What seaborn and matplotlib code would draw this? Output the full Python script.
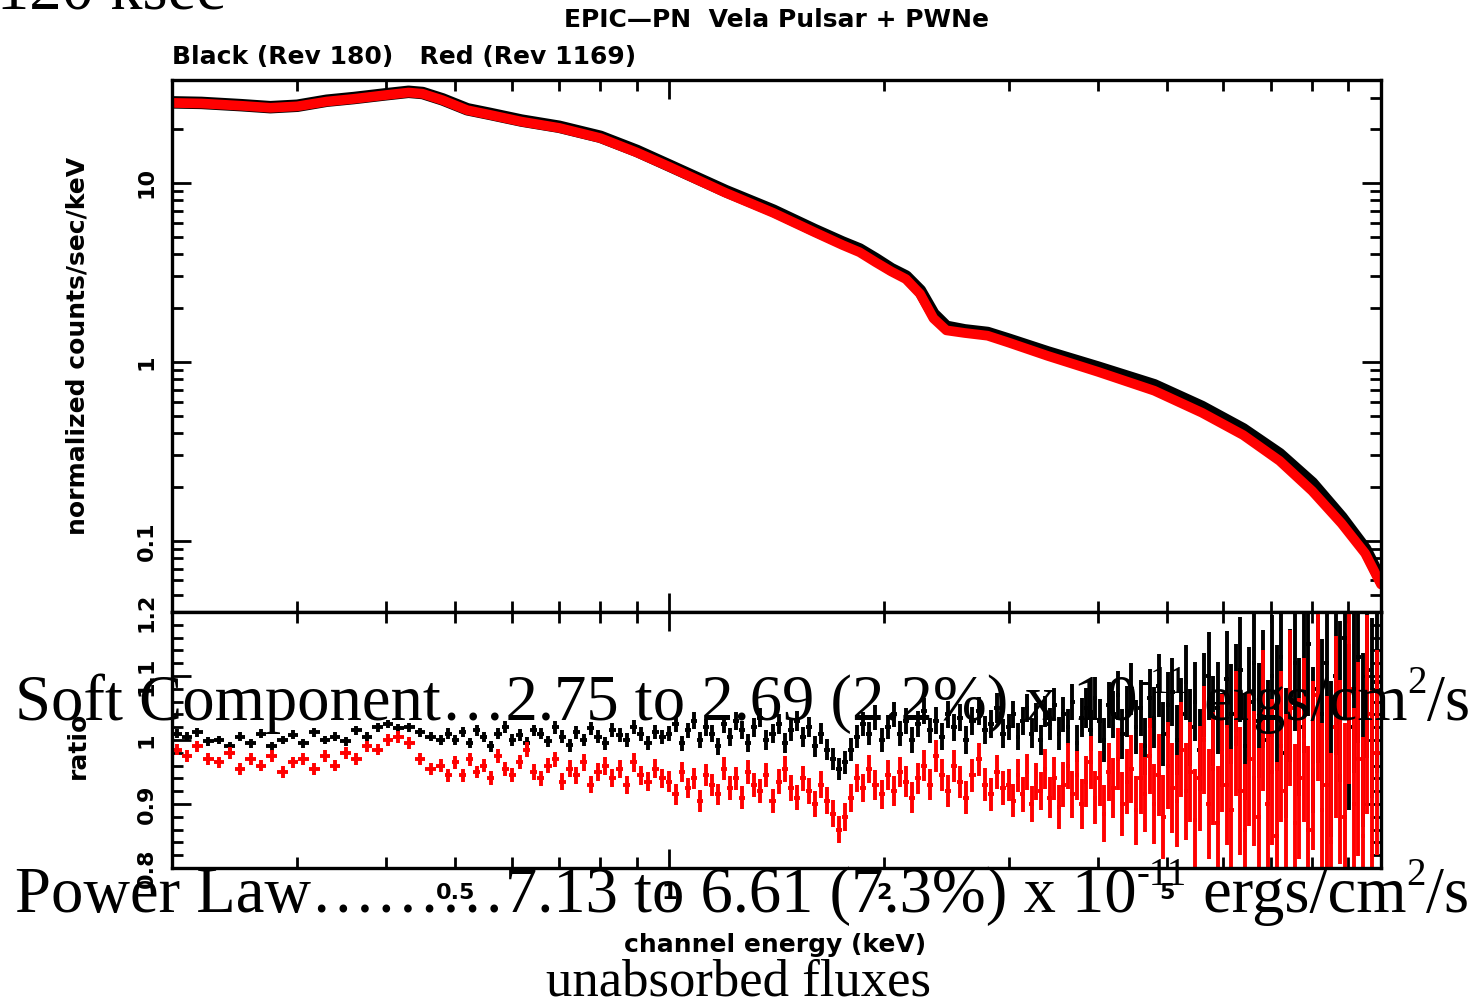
import numpy as np
import pandas as pd
import matplotlib
matplotlib.use("Agg")
from matplotlib import pyplot as plt
from matplotlib.ticker import FixedLocator, FixedFormatter
import seaborn as sns

# --- top panel: spectrum (keV, normalized counts/sec/keV) ---
spec_energy = [0.2, 0.22, 0.25, 0.275, 0.3, 0.33, 0.36, 0.4, 0.43, 0.45,
               0.48, 0.52, 0.56, 0.62, 0.7, 0.8, 0.9, 1.0, 1.2, 1.4,
               1.6, 1.75, 1.85, 1.95, 2.05, 2.15, 2.25, 2.35, 2.45, 2.6,
               2.8, 3.0, 3.4, 4.0, 4.8, 5.6, 6.4, 7.2, 8.0, 8.8,
               9.5, 10.0]
counts_black = [28.2, 28, 27.2, 26.5, 27, 28.8, 29.8, 31.3, 32.3, 31.8,
                29.3, 25.8, 24.3, 22.3, 20.6, 18.1, 15.1, 12.5, 9.0, 7.0,
                5.45, 4.65, 4.25, 3.75, 3.3, 3.0, 2.5, 1.85, 1.57, 1.5,
                1.45, 1.33, 1.13, 0.93, 0.74, 0.56, 0.42, 0.305, 0.21, 0.135,
                0.09, 0.06]
counts_red = [28, 27.8, 27, 26.3, 26.8, 28.5, 29.5, 31, 32, 31.5,
              29, 25.5, 24, 22, 20.3, 17.8, 14.8, 12.3, 8.8, 6.8,
              5.3, 4.5, 4.1, 3.6, 3.2, 2.9, 2.4, 1.75, 1.5, 1.45,
              1.4, 1.28, 1.08, 0.88, 0.69, 0.52, 0.39, 0.28, 0.19, 0.125,
              0.085, 0.057]

# --- bottom panel: data/model ratio, channel centres in keV ---
ratio_energy = [
    0.203, 0.210, 0.217, 0.225, 0.233, 0.241, 0.249, 0.258, 0.267, 0.276,
    0.286, 0.296, 0.306, 0.317, 0.328, 0.339, 0.351, 0.363, 0.376, 0.389,
    0.402, 0.416, 0.431, 0.446, 0.462, 0.478, 0.489,
    0.500, 0.512, 0.524, 0.536, 0.548, 0.561, 0.574, 0.588, 0.601, 0.616,
    0.630, 0.645, 0.660, 0.675, 0.691, 0.707, 0.724, 0.740, 0.758, 0.775,
    0.794, 0.812, 0.831, 0.851, 0.871, 0.891, 0.912, 0.933, 0.955, 0.977,
    1.000, 1.020, 1.040, 1.061, 1.082, 1.103, 1.125, 1.147, 1.170, 1.193,
    1.217, 1.241, 1.266, 1.291, 1.316, 1.342, 1.369, 1.396, 1.424, 1.452,
    1.481, 1.510, 1.540, 1.570, 1.601, 1.633, 1.665, 1.698, 1.732, 1.766,
    1.801, 1.837, 1.873, 1.910, 1.948, 1.987, 2.026, 2.066, 2.107, 2.149,
    2.191, 2.235, 2.279, 2.324, 2.370, 2.417, 2.465, 2.514, 2.564, 2.614,
    2.666, 2.719, 2.773, 2.828, 2.884, 2.941,
    3.000, 3.044, 3.089, 3.135, 3.181, 3.228, 3.276, 3.324, 3.373, 3.423,
    3.474, 3.525, 3.577, 3.630, 3.684, 3.738, 3.794, 3.850, 3.907, 3.965,
    4.024, 4.083, 4.144, 4.205, 4.267, 4.330, 4.395, 4.460, 4.526, 4.593,
    4.661, 4.729, 4.799, 4.870, 4.942, 5.016, 5.090, 5.165, 5.241, 5.319,
    5.397, 5.478, 5.559, 5.641, 5.724, 5.809, 5.895, 5.982, 6.070, 6.160,
    6.251, 6.344, 6.438, 6.533, 6.629, 6.727, 6.827, 6.928, 7.030, 7.134,
    7.240, 7.347, 7.455, 7.566, 7.678, 7.791, 7.906, 8.023, 8.142, 8.262,
    8.385, 8.509, 8.634, 8.762, 8.892, 9.023, 9.157, 9.292, 9.430, 9.569,
    9.711, 9.855]
ratio_black = [
    1.01, 1.005, 1.012, 0.998, 1.0, 0.99, 1.005, 0.995, 1.01, 0.99,
    1.0, 1.008, 0.995, 1.012, 1.0, 1.005, 0.998, 1.015, 1.005, 1.02,
    1.025, 1.018, 1.02, 1.012, 1.005, 1.0, 1.01,
    1.0, 1.012, 0.995, 1.015, 1.005, 0.99, 1.01, 1.02, 1.0, 1.008,
    0.995, 1.015, 1.01, 0.998, 1.02, 1.005, 0.992, 1.012, 1.0, 1.018,
    1.005, 0.995, 1.015, 1.008, 1.0, 1.02, 1.01, 0.995, 1.012, 1.005,
    1.01, 1.025, 0.995, 1.015, 1.03, 1.0, 1.02, 1.01, 0.99, 1.025,
    1.005, 1.03, 1.015, 0.995, 1.02, 1.035, 1.0, 1.01, 1.025, 0.995,
    1.015, 1.03, 1.005, 1.02, 0.99, 1.01, 0.985, 0.97, 0.955, 0.965,
    0.985, 1.005, 1.025, 1.01, 1.035, 1.0, 1.02, 1.04, 1.01, 1.03,
    1.0, 1.025, 1.045, 1.015, 1.03, 1.005, 1.04, 1.02, 1.035, 1.0,
    1.03, 1.045, 1.015, 1.025, 1.05, 1.01,
    1.02, 1.04, 1.005, 1.03, 1.05, 1.01, 1.035, 1.0, 1.045, 1.025,
    1.055, 1.01, 1.04, 1.02, 1.06, 0.995, 1.035, 1.05, 1.015, 1.065,
    1.03, 1.0, 1.055, 1.04, 1.07, 1.01, 1.045, 1.08, 1.02, 1.05,
    0.99, 1.065, 1.035, 1.085, 1.01, 1.055, 1.075, 1.0, 1.04, 1.09,
    1.02, 1.06, 0.985, 1.07, 1.1, 1.03, 1.05, 1.0, 1.095, 1.04,
    1.07, 1.11, 0.99, 1.06, 1.12, 1.03, 1.08, 1.0, 1.1, 1.05,
    1.13, 0.98, 1.07, 1.12, 1.02, 1.09, 1.15, 1.0, 1.08, 1.04,
    1.12, 0.97, 1.1, 1.06, 1.16, 1.02, 1.08, 1.13, 1.0, 1.11,
    1.05, 1.09]
ratio_red = [
    0.985, 0.975, 0.99, 0.97, 0.965, 0.98, 0.955, 0.97, 0.96, 0.975,
    0.95, 0.965, 0.97, 0.955, 0.975, 0.96, 0.98, 0.97, 0.99, 0.985,
    1.0, 1.005, 0.995, 0.97, 0.955, 0.96, 0.945,
    0.965, 0.945, 0.97, 0.95, 0.96, 0.94, 0.975, 0.955, 0.945, 0.965,
    0.985, 0.95, 0.94, 0.96, 0.97, 0.935, 0.955, 0.945, 0.965, 0.93,
    0.95, 0.96, 0.94, 0.955, 0.93, 0.965, 0.945, 0.935, 0.955, 0.94,
    0.935, 0.915, 0.95, 0.925, 0.94, 0.905, 0.945, 0.93, 0.915, 0.955,
    0.925, 0.94, 0.91, 0.95, 0.93, 0.92, 0.945, 0.905, 0.935, 0.955,
    0.925, 0.91, 0.94, 0.92, 0.9, 0.93, 0.905, 0.885, 0.86, 0.88,
    0.91, 0.94, 0.925, 0.955, 0.93, 0.915, 0.945, 0.92, 0.95, 0.935,
    0.91, 0.94, 0.96, 0.93, 0.975, 0.945, 0.92, 0.96, 0.935, 0.91,
    0.945, 0.97, 0.93, 0.915, 0.95, 0.925,
    0.93, 0.905, 0.945, 0.915, 0.95, 0.9, 0.935, 0.92, 0.955, 0.91,
    0.94, 0.895, 0.93, 0.96, 0.915, 0.945, 0.9, 0.935, 0.965, 0.91,
    0.94, 0.885, 0.95, 0.925, 0.97, 0.9, 0.935, 0.955, 0.89, 0.94,
    0.915, 0.975, 0.9, 0.945, 0.88, 0.96, 0.925, 0.905, 0.985, 0.92,
    0.95, 0.875, 0.94, 1.0, 0.9, 0.955, 0.87, 0.98, 0.93, 0.89,
    1.01, 0.92, 0.86, 0.97, 0.94, 0.88, 1.03, 0.9, 0.95, 0.85,
    0.99, 0.92, 1.05, 0.87, 0.94, 1.0, 0.86, 0.96, 1.07, 0.89,
    0.93, 0.84, 1.02, 0.95, 0.88, 1.08, 0.9, 0.97, 0.85, 1.04,
    0.92, 0.98]
err_black = [
    0.007, 0.007, 0.007, 0.007, 0.007, 0.007, 0.007, 0.007, 0.007, 0.007,
    0.007, 0.007, 0.007, 0.007, 0.007, 0.007, 0.007, 0.007, 0.007, 0.007,
    0.007, 0.007, 0.007, 0.007, 0.007, 0.008, 0.008,
    0.008, 0.008, 0.008, 0.008, 0.008, 0.008, 0.009, 0.009, 0.009, 0.009,
    0.009, 0.009, 0.009, 0.009, 0.01, 0.01, 0.01, 0.01, 0.01, 0.01,
    0.01, 0.01, 0.011, 0.011, 0.011, 0.011, 0.011, 0.011, 0.011, 0.011,
    0.012, 0.012, 0.012, 0.012, 0.013, 0.013, 0.013, 0.013, 0.013, 0.014,
    0.014, 0.014, 0.014, 0.014, 0.015, 0.015, 0.015, 0.015, 0.015, 0.016,
    0.016, 0.016, 0.016, 0.016, 0.017, 0.017, 0.017, 0.017, 0.017, 0.018,
    0.018, 0.018, 0.018, 0.018, 0.019, 0.019, 0.019, 0.019, 0.019, 0.02,
    0.02, 0.02, 0.02, 0.02, 0.021, 0.021, 0.021, 0.021, 0.021, 0.022,
    0.022, 0.022, 0.022, 0.022, 0.023, 0.023,
    0.02, 0.021, 0.021, 0.022, 0.022, 0.023, 0.023, 0.024, 0.024, 0.025,
    0.026, 0.026, 0.027, 0.028, 0.028, 0.029, 0.03, 0.031, 0.032, 0.033,
    0.034, 0.035, 0.036, 0.037, 0.038, 0.039, 0.04, 0.041, 0.042, 0.044,
    0.045, 0.046, 0.048, 0.049, 0.05, 0.052, 0.053, 0.055, 0.057, 0.058,
    0.06, 0.062, 0.064, 0.066, 0.068, 0.07, 0.072, 0.074, 0.076, 0.078,
    0.08, 0.082, 0.084, 0.086, 0.088, 0.09, 0.092, 0.094, 0.096, 0.098,
    0.1, 0.102, 0.104, 0.106, 0.108, 0.11, 0.112, 0.114, 0.116, 0.118,
    0.12, 0.122, 0.124, 0.126, 0.128, 0.13, 0.132, 0.134, 0.136, 0.138,
    0.14, 0.142]
err_red = [
    0.009, 0.009, 0.009, 0.009, 0.009, 0.009, 0.009, 0.009, 0.009, 0.009,
    0.009, 0.009, 0.009, 0.009, 0.009, 0.009, 0.009, 0.009, 0.009, 0.009,
    0.009, 0.009, 0.009, 0.009, 0.009, 0.01, 0.01,
    0.01, 0.01, 0.01, 0.01, 0.01, 0.011, 0.011, 0.011, 0.011, 0.011,
    0.012, 0.012, 0.012, 0.012, 0.012, 0.013, 0.013, 0.013, 0.013, 0.013,
    0.014, 0.014, 0.014, 0.014, 0.014, 0.015, 0.015, 0.015, 0.015, 0.015,
    0.016, 0.016, 0.016, 0.016, 0.017, 0.017, 0.017, 0.017, 0.017, 0.018,
    0.018, 0.018, 0.018, 0.018, 0.019, 0.019, 0.019, 0.019, 0.019, 0.02,
    0.02, 0.02, 0.02, 0.02, 0.021, 0.021, 0.021, 0.021, 0.021, 0.022,
    0.022, 0.022, 0.022, 0.022, 0.023, 0.023, 0.023, 0.023, 0.023, 0.024,
    0.024, 0.024, 0.024, 0.024, 0.025, 0.025, 0.025, 0.025, 0.025, 0.026,
    0.026, 0.026, 0.026, 0.026, 0.027, 0.027,
    0.025, 0.026, 0.026, 0.027, 0.028, 0.028, 0.029, 0.03, 0.031, 0.032,
    0.033, 0.034, 0.035, 0.036, 0.037, 0.038, 0.039, 0.04, 0.041, 0.042,
    0.043, 0.044, 0.046, 0.047, 0.048, 0.05, 0.051, 0.053, 0.054, 0.056,
    0.058, 0.06, 0.062, 0.064, 0.066, 0.068, 0.07, 0.072, 0.074, 0.076,
    0.078, 0.08, 0.082, 0.084, 0.086, 0.088, 0.09, 0.092, 0.094, 0.096,
    0.098, 0.1, 0.102, 0.104, 0.106, 0.108, 0.11, 0.112, 0.114, 0.116,
    0.118, 0.12, 0.122, 0.124, 0.126, 0.128, 0.13, 0.132, 0.134, 0.136,
    0.138, 0.14, 0.142, 0.144, 0.146, 0.148, 0.15, 0.152, 0.154, 0.156,
    0.158, 0.16]

x_minor_ticks = [0.2, 0.3, 0.4, 0.5, 0.6, 0.7, 0.8, 0.9, 2, 3, 4, 5, 6, 7, 8, 9]
x_minor_labels = ["", "", "", "0.5", "", "", "", "", "2", "", "", "5", "", "", "", ""]
ratio_ticks = [0.8, 0.9, 1.0, 1.1, 1.2]
ratio_labels = ["0.8", "0.9", "1", "1.1", "1.2"]


sns.set_theme(style="ticks")
plt.rcParams['font.family'] = ['DejaVu Sans']
plt.rcParams['font.weight'] = 'bold'
plt.rcParams['text.color'] = 'black'
plt.rcParams['axes.labelcolor'] = 'black'

W, H = 1475, 1000
fig = plt.figure(figsize=(W / 100, H / 100), dpi=100)
fig.patch.set_facecolor('white')
ax_top = fig.add_axes([0.1166, 0.388, 0.8197, 0.532])
ax_rat = fig.add_axes([0.1166, 0.132, 0.8197, 0.256], sharex=ax_top)

spec = pd.DataFrame({'energy': spec_energy, 'black': counts_black, 'red': counts_red})
sns.lineplot(data=spec, x='energy', y='black', ax=ax_top, color='black', linewidth=9, estimator=None)
sns.lineplot(data=spec, x='energy', y='red', ax=ax_top, color='#ff0000', linewidth=7, estimator=None)

# half bin widths from the channel centres
e = np.array(ratio_energy)
edges = np.sqrt(e[1:] * e[:-1])
lo = np.concatenate([[0.2], edges])
hi = np.concatenate([edges, [10.0]])
xerr = [e - lo, hi - e]

ax_rat.errorbar(e, ratio_black, xerr=xerr, yerr=err_black, fmt='none', ecolor='black', elinewidth=2.8, capsize=0)
ax_rat.errorbar(e, ratio_red, xerr=xerr, yerr=err_red, fmt='none', ecolor='#ff0000', elinewidth=2.8, capsize=0)

for ax in (ax_top, ax_rat):
    ax.set_xscale('log')
    ax.set_facecolor('white')
    for sp in ax.spines.values():
        sp.set_linewidth(2.4)
        sp.set_color('black')
    ax.tick_params(which='both', direction='in', top=True, right=True, width=2, colors='black', labelsize=16)
    ax.tick_params(which='major', length=14, pad=11)
    ax.tick_params(which='minor', length=8, pad=11)
    ax.set_xlabel('')
    ax.set_ylabel('')

ax_top.set_xlim(0.2, 10.0)
ax_top.xaxis.set_major_locator(FixedLocator([1, 10]))
ax_top.xaxis.set_major_formatter(FixedFormatter(["1", ""]))
ax_top.xaxis.set_minor_locator(FixedLocator(x_minor_ticks))
ax_top.xaxis.set_minor_formatter(FixedFormatter(x_minor_labels))
ax_top.tick_params(which='both', labelbottom=False)

ax_top.set_yscale('log')
ax_top.set_ylim(0.04, 37.6)
ax_top.yaxis.set_major_locator(FixedLocator([0.1, 1, 10]))
ax_top.yaxis.set_major_formatter(FixedFormatter(["0.1", "1", "10"]))
ax_top.yaxis.set_minor_locator(FixedLocator([0.04, 0.05, 0.06, 0.07, 0.08, 0.09,
                                             0.2, 0.3, 0.4, 0.5, 0.6, 0.7, 0.8, 0.9,
                                             2, 3, 4, 5, 6, 7, 8, 9, 20, 30]))
for lab in ax_top.get_yticklabels():
    lab.set_rotation(90)
    lab.set_va('center')

ax_rat.set_ylim(0.8, 1.2)
ax_rat.yaxis.set_major_locator(FixedLocator(ratio_ticks))
ax_rat.yaxis.set_major_formatter(FixedFormatter(ratio_labels))
ax_rat.yaxis.set_minor_locator(FixedLocator([0.82, 0.84, 0.86, 0.88, 0.92, 0.94, 0.96, 0.98,
                                             1.02, 1.04, 1.06, 1.08, 1.12, 1.14, 1.16, 1.18]))
for lab in ax_rat.get_yticklabels():
    lab.set_rotation(90)
    lab.set_va('center')

ax_top.set_ylabel('normalized counts/sec/keV', fontsize=18, fontweight='bold')
ax_top.yaxis.set_label_coords(-0.068, 0.5)
ax_rat.set_ylabel('ratio', fontsize=18, fontweight='bold')
ax_rat.yaxis.set_label_coords(-0.068, 0.48)
ax_rat.set_xlabel('channel energy (keV)', fontsize=18, fontweight='bold')
ax_rat.xaxis.set_label_coords(0.499, -0.254)

fig.text(776 / W, 1 - 20 / H, 'EPIC\u2014PN  Vela Pulsar + PWNe', ha='center', va='center',
         fontsize=18, fontweight='bold')
fig.text(172 / W, 1 - 57 / H, 'Black (Rev 180)   Red (Rev 1169)', ha='left', va='center',
         fontsize=18, fontweight='bold')


def serif_line(x_px, base_px, parts, size):
    # lay out normal and superscript pieces one after another
    renderer = fig.canvas.get_renderer()
    x = x_px
    for s, sup in parts:
        fs = size * 0.6 if sup else size
        rise = size * 0.42 * 100 / 72 if sup else 0
        t = fig.text(x / W, 1 - (base_px - rise) / H, s, ha='left', va='baseline',
                     family='Liberation Serif', fontsize=fs, fontweight='normal', color='black')
        x += t.get_window_extent(renderer).width


serif_line(-3, 10, [('120 ksec', False)], 46.5)
serif_line(15, 720, [('Soft Component\u20262.75 to 2.69 (2.2%) x 10', False), ('-11', True),
                     (' ergs/cm', False), ('2', True), ('/s', False)], 46.5)
serif_line(15, 912, [('Power Law\u2026\u2026\u20267.13 to 6.61 (7.3%) x 10', False), ('-11', True),
                     (' ergs/cm', False), ('2', True), ('/s', False)], 46.5)
fig.text(739 / W, 1 - 995 / H, 'unabsorbed fluxes', ha='center', va='baseline',
         family='Liberation Serif', fontsize=38, fontweight='normal', color='black')

fig.savefig('out.png', dpi=100)
